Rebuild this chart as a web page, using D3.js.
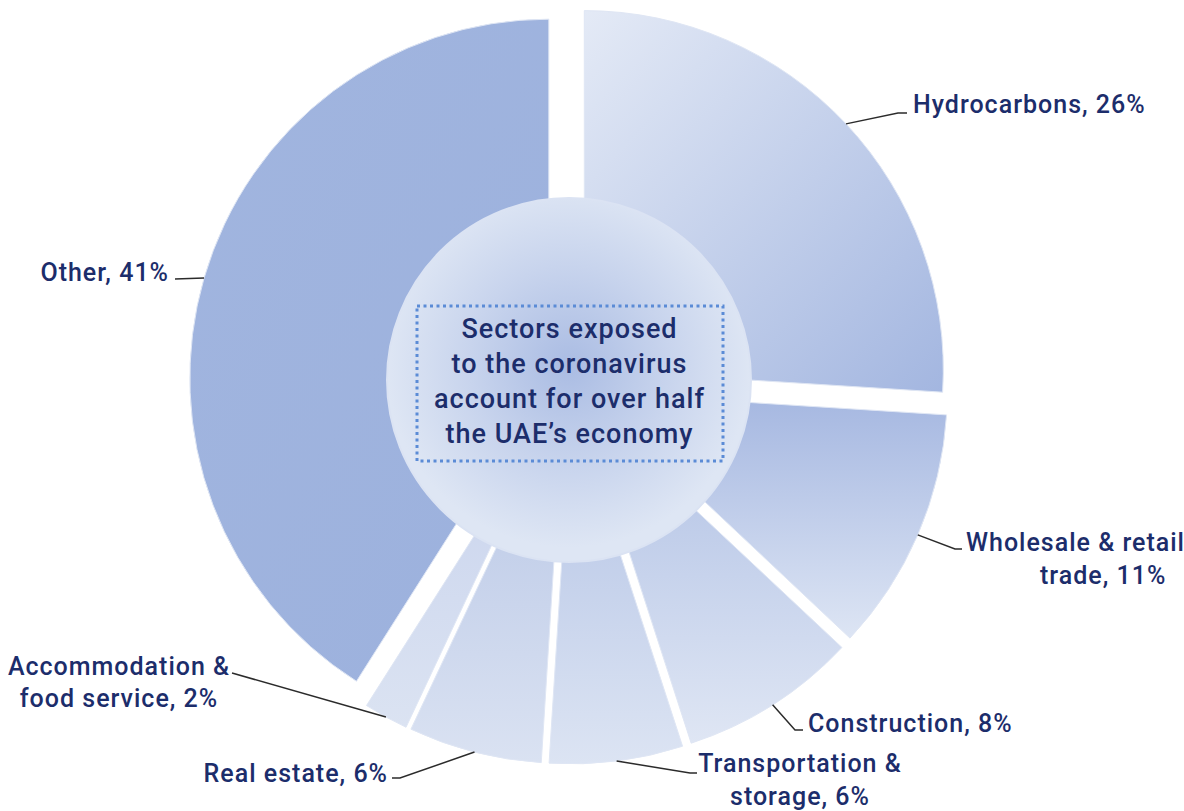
<!DOCTYPE html>
<html>
<head>
<meta charset="utf-8">
<script src="https://cdn.jsdelivr.net/npm/d3@7"></script>
<style>
  body { margin: 0; background: #fff; }
  text { font-family: Roboto, "Noto Sans", sans-serif; font-weight: 500; fill: #1c2d6b; letter-spacing: 1px; }
</style>
</head>
<body>
<div id="chart"></div>
<script>
// data
var sectors = ["Hydrocarbons", "Wholesale & retail trade", "Construction",
  "Transportation & storage", "Real estate", "Accommodation & food service", "Other"];
var shares = [26, 11, 8, 6, 6, 2, 41];
var labelLines = [
  ["Hydrocarbons, 26%"],
  ["Wholesale & retail", "trade, 11%"],
  ["Construction, 8%"],
  ["Transportation &", "storage, 6%"],
  ["Real estate, 6%"],
  ["Accommodation &", "food service, 2%"],
  ["Other, 41%"]
];
var centerText = ["Sectors exposed", "to the coronavirus", "account for over half", "the UAE\u2019s economy"];

// gradient stops per wedge: [x2, y2, from, to]
var fills = [
  [1, 1, "#e4eaf6", "#a3b6e0"],
  [0, 1, "#a6b8e1", "#dde5f4"],
  [0, 1, "#b8c7e7", "#dfe6f4"],
  [0, 1, "#bccae8", "#dce4f3"],
  [0, 1, "#bfcce8", "#dae2f2"],
  [0, 1, "#ccd6ee", "#dbe3f2"],
  [1, 1, "#a1b5df", "#9cb1dd"]
];

// label layout: leader bend points after the wedge anchor, text position per line
var labelLayout = [
  { pts: [[898, 113], [907, 113]], lines: [[913, 113, "start"]] },
  { pts: [[955, 549], [962, 549]], lines: [[966, 551, "start"], [1040, 584, "start"]] },
  { pts: [[795, 730], [803, 730]], lines: [[808, 732, "start"]] },
  { pts: [[690, 773], [697, 773]], lines: [[800, 772, "middle"], [800, 805, "middle"]] },
  { pts: [[400, 778], [392, 778]], lines: [[388, 782, "end"]] },
  { pts: [[232, 673]], lines: [[119, 675, "middle"], [119, 707, "middle"]] },
  { pts: [[175, 279]], lines: [[169, 281, "end"]] }
];

var svgWidth = 1184;
var svgHeight = 811;
var cx = 569, cy = 384;
var outerR = 359;
var explode = 21;

var svg = d3.select("#chart")
  .append("svg")
  .attr("width", svgWidth)
  .attr("height", svgHeight);

var defs = svg.append("defs");

fills.forEach(function(f, i) {
  var g = defs.append("linearGradient")
    .attr("id", "wedge" + i)
    .attr("x1", 0).attr("y1", 0)
    .attr("x2", f[0]).attr("y2", f[1]);
  g.append("stop").attr("offset", "0%").attr("stop-color", f[2]);
  g.append("stop").attr("offset", "100%").attr("stop-color", f[3]);
});

var hub = defs.append("radialGradient").attr("id", "hub")
  .attr("cx", "50%").attr("cy", "46%").attr("r", "50%");
hub.append("stop").attr("offset", "0%").attr("stop-color", "#aabce3");
hub.append("stop").attr("offset", "55%").attr("stop-color", "#c8d4ed");
hub.append("stop").attr("offset", "100%").attr("stop-color", "#dee6f4");

var data = sectors.map(function(s, i) { return { name: s, value: shares[i], idx: i }; });

var pie = d3.pie()
  .sort(null)
  .value(function(d) { return d.value; });

var arc = d3.arc()
  .innerRadius(100)
  .outerRadius(outerR);

var arcs = pie(data);

function offsetOf(d) {
  var mid = (d.startAngle + d.endAngle) / 2;
  return [cx + explode * Math.sin(mid), cy - explode * Math.cos(mid)];
}

var chartGroup = svg.append("g");

chartGroup.selectAll("path.wedge")
  .data(arcs)
  .enter()
  .append("path")
  .attr("class", "wedge")
  .attr("transform", function(d) { var o = offsetOf(d); return "translate(" + o[0] + "," + o[1] + ")"; })
  .attr("d", arc)
  .attr("fill", function(d) { return "url(#wedge" + d.data.idx + ")"; })
  .attr("stroke", "#dfe6f4")
  .attr("stroke-width", 1);

// centre disc
chartGroup.append("circle")
  .attr("cx", cx)
  .attr("cy", 380)
  .attr("r", 182)
  .attr("fill", "url(#hub)")
  .attr("stroke", "#dbe3f3")
  .attr("stroke-width", 2);

chartGroup.append("rect")
  .attr("x", 417)
  .attr("y", 306)
  .attr("width", 306)
  .attr("height", 155)
  .attr("fill", "none")
  .attr("stroke", "#5b8bd6")
  .attr("stroke-width", 3)
  .attr("stroke-dasharray", "3 3.5");

chartGroup.selectAll("text.hubtext")
  .data(centerText)
  .enter()
  .append("text")
  .attr("class", "hubtext")
  .attr("x", cx + 0.5)
  .attr("y", function(d, i) { return 338 + i * 35; })
  .attr("text-anchor", "middle")
  .style("font-size", "27px")
  .text(function(d) { return d; });

// leader lines and labels
var line = d3.line();

arcs.forEach(function(d, i) {
  var o = offsetOf(d);
  var mid = (d.startAngle + d.endAngle) / 2;
  var start = [o[0] + outerR * Math.sin(mid), o[1] - outerR * Math.cos(mid)];
  var lay = labelLayout[i];

  chartGroup.append("path")
    .attr("d", line([start].concat(lay.pts)))
    .attr("fill", "none")
    .attr("stroke", "#2b2b2b")
    .attr("stroke-width", 1.5);

  lay.lines.forEach(function(l, j) {
    chartGroup.append("text")
      .attr("x", l[0])
      .attr("y", l[1])
      .attr("text-anchor", l[2])
      .style("font-size", "25px")
      .text(labelLines[i][j]);
  });
});
</script>
</body>
</html>
